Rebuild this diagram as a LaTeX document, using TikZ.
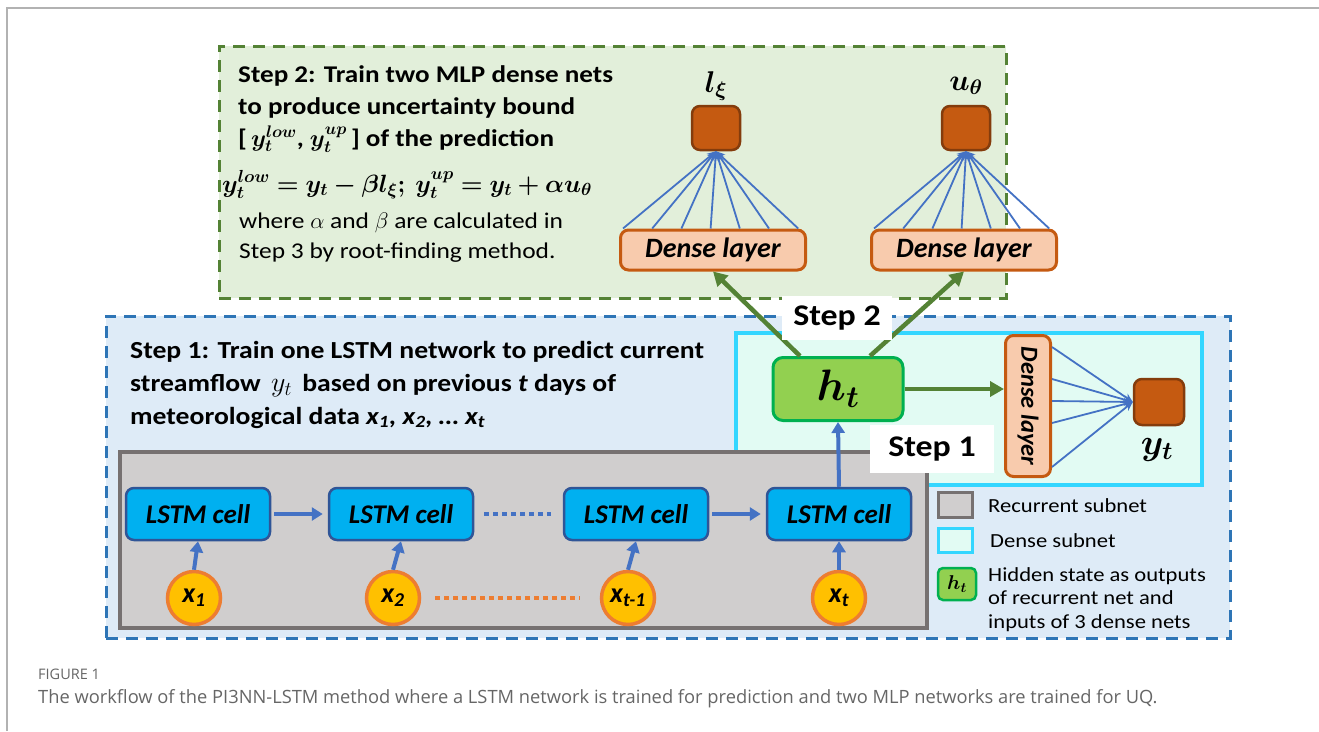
\RequirePackage{fix-cm}
\documentclass[tikz,border=0pt]{standalone}
\usepackage{amsmath}
\usepackage{bm}
\usepackage{fontspec}
\setmainfont{Carlito}
\newfontfamily\widefont[FakeStretch=1.13]{Carlito}
\newfontfamily\capfont{Open Sans}
\usetikzlibrary{arrows.meta,calc}
\definecolor{gfill}{HTML}{E2EFDA}
\definecolor{gdark}{HTML}{548235}
\definecolor{bfill}{HTML}{DEEBF7}
\definecolor{bdark}{HTML}{2E75B6}
\definecolor{mint}{HTML}{E2FBF3}
\definecolor{cyanb}{HTML}{33D6FF}
\definecolor{grayfill}{HTML}{D0CECE}
\definecolor{graydark}{HTML}{767171}
\definecolor{lstm}{HTML}{00B0F0}
\definecolor{lstmb}{HTML}{2F5597}
\definecolor{arrowblue}{HTML}{4472C4}
\definecolor{xfill}{HTML}{FFC000}
\definecolor{xborder}{HTML}{ED7D31}
\definecolor{peach}{HTML}{F8CBAD}
\definecolor{rust}{HTML}{C55A11}
\definecolor{rustdark}{HTML}{843C0C}
\definecolor{hfill}{HTML}{92D050}
\definecolor{hborder}{HTML}{00B050}
\definecolor{captext}{HTML}{666666}
\newcommand{\setfs}[1]{\fontsize{#1}{#1}\selectfont}
\begin{document}
\begin{tikzpicture}[x=1pt,y=-1pt,
 region/.style={line width=3pt, dash pattern=on 12pt off 8pt, inner sep=0pt, outer sep=0pt, anchor=north west},
 lstmcell/.style={draw=lstmb, fill=lstm, line width=2.5pt, rounded corners=8pt, minimum width=144pt, minimum height=52pt, inner sep=0pt, font=\setfs{27}\bfseries\itshape},
 xin/.style={circle, draw=xborder, fill=xfill, line width=3.5pt, minimum size=53pt, inner sep=0pt, font=\setfs{28}\bfseries\itshape},
 densebox/.style={draw=rust, fill=peach, line width=3pt, rounded corners=8pt, inner sep=0pt, font=\setfs{28}\bfseries\itshape},
 outsq/.style={draw=rustdark, fill=rust, line width=2.5pt, rounded corners=8pt, minimum width=48pt, minimum height=44pt, inner sep=0pt},
 steplbl/.style={fill=white, inner sep=0pt, font=\widefont\setfs{30}\bfseries},
 barrow/.style={draw=arrowblue, line width=4pt, -{Triangle[length=11pt,width=13pt]}},
 garrow/.style={draw=gdark, line width=4.5pt, -{Triangle[length=14pt,width=15pt]}},
 fan/.style={draw=arrowblue, line width=1.8pt, -{Stealth[length=9pt,width=8pt]}},
 txt/.style={anchor=base west, inner sep=0pt, font=\widefont\setfs{24}\bfseries},
 legtxt/.style={anchor=base west, inner sep=0pt, font=\widefont\setfs{20}}
]
\useasboundingbox (0,0) rectangle (1319,731);
\fill[white] (0,0) rectangle (1319,731);
\draw[gray!60, line width=2pt] (7,731) -- (7,8) -- (1319,8);

% ---------- Step 2 region ----------
\node[region, draw=gdark, fill=gfill, minimum width=787pt, minimum height=252pt] (s2reg) at (219,46) {};
\node[txt] (t21) at (238,82) {Step 2: Train two MLP dense nets};
\node[txt] (t22) at (238,114) {to produce uncertainty bound};
\node[txt] (t23) at (238,146) {[\,$\bm{y_t^{low}}$, $\bm{y_t^{up}}$\,] of the prediction};
\node[txt, font=\setfs{25}] (t24) at (222,192) {$\bm{y_t^{low} = y_t - \beta l_\xi;\ y_t^{up} = y_t + \alpha u_\theta}$};
\node[txt, font=\widefont\setfs{22.5}] (t25) at (239,228) {where $\alpha$ and $\beta$ are calculated in};
\node[txt, font=\widefont\setfs{22.5}] (t26) at (239,258) {Step 3 by root-finding method.};

\node[densebox, minimum width=185pt, minimum height=40pt] (d1) at (713,250) {Dense layer};
\node[densebox, minimum width=185pt, minimum height=40pt] (d2) at (964,250) {Dense layer};
\node[outsq] (lo) at (716,128) {};
\node[outsq] (uo) at (966,128) {};
\node[inner sep=0pt, font=\setfs{30}] (lol) at (716,86) {$\bm{l_\xi}$};
\node[inner sep=0pt, font=\setfs{30}] (uol) at (966,86) {$\bm{u_\theta}$};
\foreach \i in {0,...,6} {
  \draw[fan] ([xshift={4+\i*29.2}]d1.north west) -- (lo.south);
  \draw[fan] ([xshift={4+\i*29.2}]d2.north west) -- (uo.south);
}

% ---------- Step 1 region ----------
\node[region, draw=bdark, fill=bfill, minimum width=1124pt, minimum height=322pt] (s1reg) at (106,316) {};
\node[draw=cyanb, fill=mint, line width=3.5pt, inner sep=0pt, minimum width=466pt, minimum height=152pt, anchor=north west] (dsub) at (734,331) {};
\node[draw=graydark, fill=grayfill, line width=3.5pt, inner sep=0pt, minimum width=807pt, minimum height=176pt, anchor=north west] (rsub) at (118,450) {};

\node[txt, font=\widefont\setfs{24.5}\bfseries] (t11) at (130,358) {Step 1: Train one LSTM network to predict current};
\node[txt, font=\widefont\setfs{24.5}\bfseries] (t12) at (130,391) {streamflow \,{\setfs{28}$y_t$}\, based on previous \textit{t} days of};
\node[txt, font=\widefont\setfs{24.5}\bfseries] (t13) at (130,424) {meteorological data \textit{x\textsubscript{1}, x\textsubscript{2}, … x\textsubscript{t}}};

\node[lstmcell] (c1) at (198,514) {LSTM cell};
\node[lstmcell] (c2) at (401,514) {LSTM cell};
\node[lstmcell] (c3) at (636,514) {LSTM cell};
\node[lstmcell] (c4) at (839,514) {LSTM cell};
\node[xin] (x1) at (194,598) {x\textsubscript{1}};
\node[xin] (x2) at (393,598) {x\textsubscript{2}};
\node[xin] (x3) at (628,598) {x\textsubscript{t-1}};
\node[xin] (x4) at (839,598) {x\textsubscript{t}};
\foreach \a/\b in {x1/c1,x2/c2,x3/c3,x4/c4} \draw[barrow] (\a.north) -- (\b.south);
\draw[barrow] ([xshift=3pt]c1.east) -- ([xshift=-5pt]c2.west);
\draw[barrow] ([xshift=3pt]c3.east) -- ([xshift=-5pt]c4.west);
\draw[draw=arrowblue, line width=4pt, dash pattern=on 5pt off 4pt] ([xshift=10pt]c2.east) -- ([xshift=-12pt]c3.west);
\draw[draw=xborder, line width=4pt, dash pattern=on 5pt off 4pt] ([xshift=14pt]x2.east) -- ([xshift=-20pt]x3.west);

\node[draw=hborder, fill=hfill, line width=3pt, rounded corners=10pt, minimum width=130pt, minimum height=63pt, inner sep=0pt] (ht) at (838,389) {\setfs{44}$\bm{h_t}$};
\draw[barrow] (c4.north) -- (ht.south);

\node[densebox, rotate=-90, minimum width=141pt, minimum height=45pt, font=\setfs{24.5}\bfseries\itshape] (dv) at (1028,406) {Dense layer};
\node[outsq, minimum width=50pt, minimum height=46pt] (yo) at (1159,402) {};
\node[inner sep=0pt] (yl) at (1157,450) {\setfs{36}$\bm{y_t}$};
\draw[garrow] (ht.east) -- (ht.east -| dv.south);
\foreach \dy in {-59,-27,-5,17,61} \draw[fan] ($(dv.north)+(0,\dy)$) -- (yo.west);

\draw[garrow] ([xshift=-38pt]ht.north) -- (d1.south);
\draw[garrow] ([xshift=32pt]ht.north) -- (d2.south);

\node[steplbl, minimum width=110pt, minimum height=44pt] (st2) at (837,318) {Step 2};
\node[steplbl, minimum width=124pt, minimum height=48pt] (st1) at (932,449) {Step 1};

% ---------- legend ----------
\node[draw=graydark, fill=grayfill, line width=3pt, minimum width=34pt, minimum height=25pt, inner sep=0pt] (lg1) at (955,505) {};
\node[legtxt] (lt1) at (988,512) {Recurrent subnet};
\node[draw=cyanb, fill=mint, line width=3pt, minimum width=34pt, minimum height=24pt, inner sep=0pt] (lg2) at (955,540) {};
\node[legtxt] (lt2) at (990,547) {Dense subnet};
\node[draw=hborder, fill=hfill, line width=2.5pt, rounded corners=5pt, minimum width=38pt, minimum height=32pt, inner sep=0pt] (lg3) at (957,584) {\setfs{20}$\bm{h_t}$};
\node[legtxt] (lt3) at (988,581) {Hidden state as outputs};
\node[legtxt] (lt4) at (988,604) {of recurrent net and};
\node[legtxt] (lt5) at (988,628) {inputs of 3 dense nets};

% ---------- caption ----------
\node[anchor=base west, inner sep=0pt, font=\capfont\setfs{14.5}, text=captext] (fig) at (38,679) {FIGURE 1};
\node[anchor=base west, inner sep=0pt, font=\capfont\setfs{18.3}, text=captext] (cap) at (38,703) {The workflow of the PI3NN-LSTM method where a LSTM network is trained for prediction and two MLP networks are trained for UQ.};
\end{tikzpicture}
\end{document}
